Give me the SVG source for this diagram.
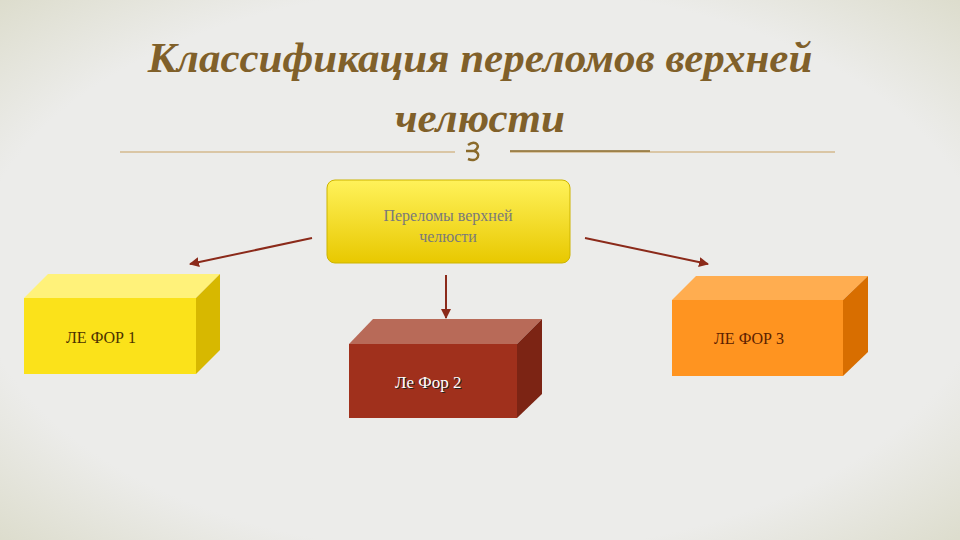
<svg xmlns="http://www.w3.org/2000/svg" width="960" height="540" viewBox="0 0 960 540">
<defs>
<style>
.t{font-family:"Liberation Serif",serif}
.ti{font-family:"Liberation Serif",serif;font-size:43px;font-style:italic;font-weight:bold;fill:#80602a;text-anchor:middle}
.arr{stroke:#8b2a1a;stroke-width:2;fill:none;marker-end:url(#ah)}
</style>
<marker id="ah" viewBox="0 0 10 10" refX="9" refY="5" markerWidth="5" markerHeight="5" orient="auto"><path d="M0,0L10,5L0,10z" fill="#8b2a1a"/></marker>
<linearGradient id="y" x1="0" y1="0" x2="0" y2="1"><stop offset="0" stop-color="#fff25a"/><stop offset="1" stop-color="#e8c800"/></linearGradient>
<radialGradient id="bg" cx="0.5" cy="0.5" r="0.75"><stop offset="0.7" stop-color="#ececea"/><stop offset="1" stop-color="#d9d9c6"/></radialGradient>
</defs>
<rect width="960" height="540" fill="url(#bg)"/>
<text class="ti" x="480" y="72">Классификация переломов верхней</text>
<text class="ti" x="480" y="132">челюсти</text>
<g id="rule">
<line x1="120" y1="152" x2="455" y2="152" stroke="#c8a060" stroke-width="1"/>
<line x1="510" y1="152" x2="835" y2="152" stroke="#c8a060" stroke-width="1"/>
<line x1="510" y1="151" x2="650" y2="151" stroke="#8a6a2a" stroke-width="1.5"/>
<path d="M468,145c8,-6 14,2 6,6c8,2 4,12 -6,8M474,151h-8" stroke="#8a6a2a" stroke-width="2.5" fill="none"/>
</g>
<g id="center">
<rect x="327" y="180" width="243" height="83" rx="8" fill="url(#y)" stroke="#cdb400"/>
<text class="t" x="448" y="221" font-size="16" fill="#7a7a7a" text-anchor="middle">Переломы верхней</text>
<text class="t" x="448" y="242" font-size="16" fill="#7a7a7a" text-anchor="middle">челюсти</text>
</g>
<g id="connectors">
<line class="arr" x1="312" y1="238" x2="190" y2="264"/>
<line class="arr" x1="446" y1="275" x2="446" y2="318"/>
<line class="arr" x1="585" y1="238" x2="708" y2="264"/>
</g>
<g id="lefor1">
<polygon points="24,298 48,274 220,274 196,298" fill="#fff27a"/>
<polygon points="196,298 220,274 220,350 196,374" fill="#d7b800"/>
<rect x="24" y="298" width="172" height="76" fill="#fbe21a"/>
<text class="t" x="66" y="343" font-size="16" fill="#4a3000">ЛЕ ФОР 1</text>
</g>
<g id="lefor2">
<polygon points="349,344 373,319 542,319 517,344" fill="#b86a58"/>
<polygon points="517,344 542,319 542,394 517,418" fill="#7c2414"/>
<rect x="349" y="344" width="168" height="74" fill="#a0301c"/>
<text class="t" x="396" y="389" font-size="17" fill="#222">Ле Фор 2</text>
<text class="t" x="395" y="388" font-size="17" fill="#fff">Ле Фор 2</text>
</g>
<g id="lefor3">
<polygon points="672,300 696,276 868,276 843,300" fill="#ffad50"/>
<polygon points="843,300 868,276 868,352 843,376" fill="#d86e00"/>
<rect x="672" y="300" width="171" height="76" fill="#ff9420"/>
<text class="t" x="714" y="344" font-size="16" fill="#5a2000">ЛЕ ФОР 3</text>
</g>
</svg>
